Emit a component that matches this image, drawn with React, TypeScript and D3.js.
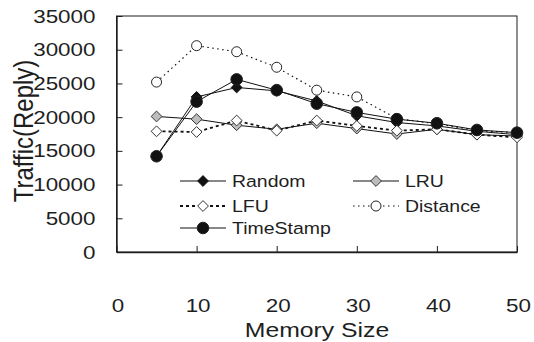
import { useEffect, useRef } from 'react';
import * as d3 from 'd3';

const memorySizes = [5, 10, 15, 20, 25, 30, 35, 40, 45, 50];
const randomTraffic = [14200, 23000, 24400, 23900, 22400, 20200, 19200, 18700, 17900, 17400];
const lruTraffic = [20100, 19700, 18800, 18200, 19100, 18300, 17500, 18200, 17400, 17200];
const lfuTraffic = [17900, 17800, 19500, 18000, 19500, 18700, 18000, 18200, 17400, 17000];
const distanceTraffic = [25200, 30600, 29700, 27400, 24000, 23000, 19800, 19000, 18000, 17700];
const timeStampTraffic = [14200, 22300, 25600, 24000, 22000, 20700, 19700, 19100, 18100, 17700];

const yTicks = [0, 5000, 10000, 15000, 20000, 25000, 30000, 35000];
const xTicks = [0, 10, 20, 30, 40, 50];

type Marker = 'diamond' | 'circle';
interface Series {
  name: string;
  values: number[];
  marker: Marker;
  fill: string;
  dash: string | null;
  lineWidth: number;
}

const series: Series[] = [
  { name: 'Random', values: randomTraffic, marker: 'diamond', fill: '#111', dash: null, lineWidth: 1 },
  { name: 'LRU', values: lruTraffic, marker: 'diamond', fill: '#bdbdbd', dash: null, lineWidth: 1 },
  { name: 'LFU', values: lfuTraffic, marker: 'diamond', fill: '#fff', dash: '3,3', lineWidth: 1.8 },
  { name: 'Distance', values: distanceTraffic, marker: 'circle', fill: '#fff', dash: '1.5,3.5', lineWidth: 1.2 },
  { name: 'TimeStamp', values: timeStampTraffic, marker: 'circle', fill: '#111', dash: null, lineWidth: 1 },
];

// legend placement order (two columns)
const legendOrder = ['Random', 'LRU', 'LFU', 'Distance', 'TimeStamp'];

const STRETCH = 1.18;
const FONT = 'Arial, "Liberation Sans", sans-serif';
const INK = '#1e1e1e';

function drawMarker(g: d3.Selection<SVGGElement, unknown, null, undefined>, s: Series, cx: number, cy: number) {
  if (s.marker === 'diamond') {
    const r = 5.4;
    g.append('path')
      .attr('d', `M${cx},${cy - r}L${cx + r},${cy}L${cx},${cy + r}L${cx - r},${cy}Z`)
      .attr('fill', s.fill)
      .attr('stroke', s.fill === '#111' ? '#111' : '#333')
      .attr('stroke-width', 1);
  } else {
    g.append('circle')
      .attr('cx', cx)
      .attr('cy', cy)
      .attr('r', s.fill === '#111' ? 5.8 : 5)
      .attr('fill', s.fill)
      .attr('stroke', '#222')
      .attr('stroke-width', 1);
  }
}

export default function App() {
  const svgRef = useRef<SVGSVGElement>(null);

  useEffect(() => {
    if (!svgRef.current) return;
    const width = 534;
    const height = 342;
    const margin = { top: 16, right: 17, bottom: 90, left: 116.5 };
    const innerW = width - margin.left - margin.right;
    const innerH = height - margin.top - margin.bottom;

    const svg = d3.select(svgRef.current);
    svg.selectAll('*').remove();
    svg.attr('width', width).attr('height', height);

    const g = svg.append('g').attr('transform', `translate(${margin.left},${margin.top})`);

    const x = d3.scaleLinear().domain([0, 50]).range([0, innerW]);
    const y = d3.scaleLinear().domain([0, 35000]).range([innerH, 0]);

    // plot frame
    g.append('rect')
      .attr('x', 0)
      .attr('y', 0)
      .attr('width', innerW)
      .attr('height', innerH)
      .attr('fill', 'none')
      .attr('stroke', INK)
      .attr('stroke-width', 1);

    // Y axis, ticks pointing inward
    const yAxis = g.append('g').call(
      d3
        .axisLeft(y)
        .tickValues(yTicks)
        .tickFormat(d3.format('d'))
        .tickSizeInner(-6)
        .tickSizeOuter(0)
        .tickPadding(21)
    );
    yAxis.select('.domain').attr('stroke', INK).attr('stroke-width', 1.4);
    yAxis.selectAll('line').attr('stroke', INK);
    yAxis
      .selectAll<SVGTextElement, number>('text')
      .attr('x', null)
      .attr('transform', `translate(-21,0) scale(${STRETCH},1)`)
      .attr('font-family', FONT)
      .attr('font-size', 19)
      .attr('fill', INK);

    // X axis, ticks pointing inward
    const xAxis = g
      .append('g')
      .attr('transform', `translate(0,${innerH})`)
      .call(
        d3
          .axisBottom(x)
          .tickValues(xTicks)
          .tickFormat(d3.format('d'))
          .tickSizeInner(-6)
          .tickSizeOuter(0)
          .tickPadding(0)
      );
    xAxis.select('.domain').attr('stroke', INK).attr('stroke-width', 1.4);
    xAxis.selectAll('line').attr('stroke', INK);
    xAxis
      .selectAll<SVGTextElement, number>('text')
      .attr('y', null)
      .attr('dy', null)
      .attr('transform', `translate(1,60) scale(${STRETCH},1)`)
      .attr('font-family', FONT)
      .attr('font-size', 19)
      .attr('fill', INK);

    // series lines + markers
    series.forEach((s) => {
      const line = d3
        .line<number>()
        .x((_, i) => x(memorySizes[i]))
        .y((d) => y(d));
      g.append('path')
        .datum(s.values)
        .attr('d', line)
        .attr('fill', 'none')
        .attr('stroke', '#111')
        .attr('stroke-width', s.lineWidth)
        .attr('stroke-dasharray', s.dash ?? null);
      const mg = g.append('g');
      s.values.forEach((v, i) => drawMarker(mg, s, x(memorySizes[i]), y(v)));
    });

    // legend
    const legendCols = [180 - margin.left, 353 - margin.left];
    const legendRows = [181 - margin.top, 206 - margin.top, 228 - margin.top];
    legendOrder.forEach((name, i) => {
      const s = series.find((d) => d.name === name)!;
      const lx = legendCols[i % 2];
      const ly = legendRows[Math.floor(i / 2)];
      const lg = g.append('g').attr('transform', `translate(${lx},${ly})`);
      lg.append('line')
        .attr('x1', 0)
        .attr('x2', 46)
        .attr('y1', 0)
        .attr('y2', 0)
        .attr('stroke', '#111')
        .attr('stroke-width', s.lineWidth)
        .attr('stroke-dasharray', s.dash ?? null);
      drawMarker(lg, s, 23, 0);
      lg.append('text')
        .attr('transform', `translate(52,6) scale(${STRETCH},1)`)
        .attr('font-family', FONT)
        .attr('font-size', 16.5)
        .attr('fill', INK)
        .text(s.name);
    });

    // axis titles
    svg
      .append('text')
      .attr('transform', `translate(317,337) scale(${STRETCH},1)`)
      .attr('text-anchor', 'middle')
      .attr('font-family', FONT)
      .attr('font-size', 21)
      .attr('fill', INK)
      .text('Memory Size');

    svg
      .append('text')
      .attr('transform', `translate(33,131) rotate(-90) scale(1,${STRETCH})`)
      .attr('text-anchor', 'middle')
      .attr('font-family', FONT)
      .attr('font-size', 24)
      .attr('fill', INK)
      .text('Traffic(Reply)');
  }, []);

  return (
    <div style={{ position: 'absolute', left: 0, top: 0, background: '#fff' }}>
      <svg ref={svgRef} style={{ display: 'block' }} />
    </div>
  );
}
